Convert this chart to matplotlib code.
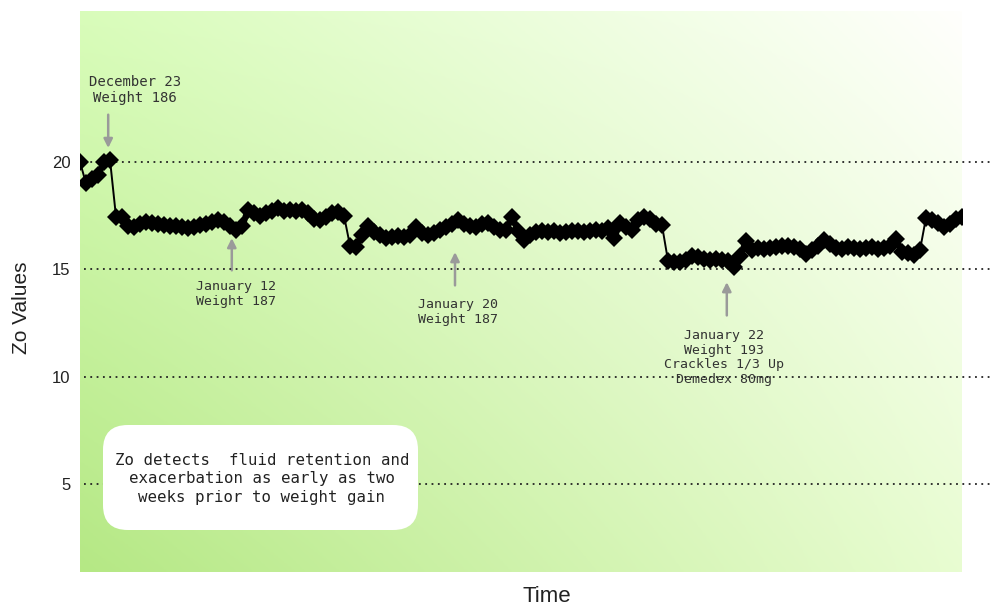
import matplotlib
matplotlib.use("Agg")
import matplotlib.pyplot as plt
import numpy as np
from matplotlib.patches import FancyBboxPatch
from matplotlib.collections import LineCollection

# Zo readings, one per sample
zo = [20.0, 19.0, 19.2, 19.4, 20.0, 20.1, 17.45, 17.45, 17.0, 16.95,
      17.1, 17.2, 17.15, 17.1, 17.05, 17.0, 17.0, 16.95, 16.9, 16.95,
      17.05, 17.1, 17.2, 17.3, 17.2, 17.0, 16.85, 17.0, 17.75, 17.6,
      17.5, 17.6, 17.7, 17.85, 17.7, 17.75, 17.7, 17.75, 17.6, 17.35,
      17.3, 17.45, 17.6, 17.65, 17.5, 16.1, 16.05, 16.6, 17.0, 16.75,
      16.6, 16.45, 16.5, 16.55, 16.5, 16.6, 16.95, 16.7, 16.6, 16.7,
      16.85, 16.95, 17.1, 17.3, 17.1, 17.0, 16.95, 17.1, 17.15, 16.95,
      16.85, 16.85, 17.45, 16.8, 16.35, 16.6, 16.75, 16.8, 16.75, 16.8,
      16.7, 16.75, 16.8, 16.8, 16.75, 16.8, 16.85, 16.8, 16.9, 16.45,
      17.15, 16.95, 16.85, 17.3, 17.45, 17.35, 17.1, 17.05, 15.4, 15.35,
      15.35, 15.45, 15.6, 15.55, 15.5, 15.45, 15.5, 15.45, 15.4, 15.1,
      15.6, 16.3, 15.9, 16.0, 15.95, 16.0, 16.05, 16.1, 16.1, 16.05,
      15.95, 15.7, 15.9, 16.1, 16.35, 16.2, 16.0, 15.95, 16.05, 16.0,
      15.95, 16.0, 16.05, 15.95, 16.0, 16.1, 16.4, 15.8, 15.75, 15.65,
      15.9, 17.4, 17.3, 17.15, 16.95, 17.1, 17.35, 17.45]
sample = np.arange(len(zo))

y_ticks = [5, 10, 15, 20]

events = ["December 23\nWeight 186",
          "January 12\nWeight 187",
          "January 20\nWeight 187",
          "January 22\nWeight 193\nCrackles 1/3 Up\nDemedex 80mg"]
event_x = [4.7, 25.3, 62.5, 107.8]          # arrow position (sample)
event_head = [20.65, 16.45, 15.8, 14.4]
event_tail = [22.2, 14.95, 14.25, 12.85]
label_x = [9.2, 26.0, 63.0, 107.3]
label_y = [23.35, 13.85, 13.0, 10.9]

note = "Zo detects  fluid retention and\nexacerbation as early as two\nweeks prior to weight gain"

fig = plt.figure(figsize=(9.9, 6.08), dpi=100)
ax = fig.add_axes([80 / 990, 36 / 608, 882 / 990, 561 / 608])

# green gradient background
gx, gy = np.meshgrid(np.linspace(0, 1, 200), np.linspace(0, 1, 200))
tl = np.array([0.85, 0.99, 0.73])
tr = np.array([1.0, 1.0, 0.99])
bl = np.array([0.71, 0.91, 0.52])
br = np.array([0.91, 0.99, 0.82])
top = tl[None, None, :] * (1 - gx[..., None]) + tr[None, None, :] * gx[..., None]
bot = bl[None, None, :] * (1 - gx[..., None]) + br[None, None, :] * gx[..., None]
grad = bot * (1 - gy[..., None]) + top * gy[..., None]
ax.imshow(grad, extent=[0, 1, 0, 1], transform=ax.transAxes, origin="lower",
          aspect="auto", zorder=0)

# thick band for small steps, thin line for the big jumps
pts = np.column_stack([sample, zo])
segs = np.stack([pts[:-1], pts[1:]], axis=1)
jump = np.abs(np.diff(zo)) > 0.9
widths = np.where(jump, 1.4, 4.5)
ax.add_collection(LineCollection(segs, colors="black", linewidths=widths,
                                 capstyle="round", zorder=4))
ax.plot(sample, zo, ls="none", color="black", marker="D", ms=9,
        markeredgewidth=0, zorder=4)

ax.set_xlim(0, len(zo) - 1)
ax.set_ylim(0.9, 27.03)
ax.set_xticks([])
ax.set_yticks(y_ticks)
ax.tick_params(axis="y", length=0, pad=7, labelsize=12, labelcolor="#222222")
for lbl in ax.get_yticklabels():
    lbl.set_family("Liberation Sans")
for s in ax.spines.values():
    s.set_visible(False)

# dotted reference lines running past the plot edge
for v in y_ticks:
    ax.plot([0.004, 1.04], [v, v], transform=ax.get_yaxis_transform(),
            color="#222222", lw=1.3, ls=(0, (1, 2.5)), clip_on=False, zorder=3)

for i in range(len(events)):
    ax.annotate("", xy=(event_x[i], event_head[i]), xytext=(event_x[i], event_tail[i]),
                arrowprops=dict(arrowstyle="-|>", color="#9a9a9a", lw=1.8,
                                mutation_scale=13, shrinkA=0, shrinkB=0), zorder=2)
    ax.text(label_x[i], label_y[i], events[i], ha="center", va="center",
            family="DejaVu Sans Mono", fontsize=10 if i == 0 else 9.5,
            color="#333333", linespacing=1.15, zorder=2)

box = FancyBboxPatch((103 / 990, 78 / 608), 315 / 990, 105 / 608,
                     boxstyle="round,pad=0,rounding_size=0.025",
                     mutation_aspect=990 / 608, transform=fig.transFigure,
                     fc="white", ec="none", zorder=5)
fig.patches.append(box)
fig.text(262 / 990, 1 - 479 / 608, note, ha="center", va="center",
         family="DejaVu Sans Mono", fontsize=11.3, color="#222222",
         linespacing=1.3, zorder=6)

fig.text(22 / 990, 1 - 308 / 608, "Zo Values", rotation=90, ha="center",
         va="center", family="Liberation Sans", fontsize=15, color="#222222")
fig.text(547 / 990, 1 - 597 / 608, "Time", ha="center", va="center",
         family="Liberation Sans", fontsize=16, color="#222222")

fig.savefig("out.png", dpi=100)
